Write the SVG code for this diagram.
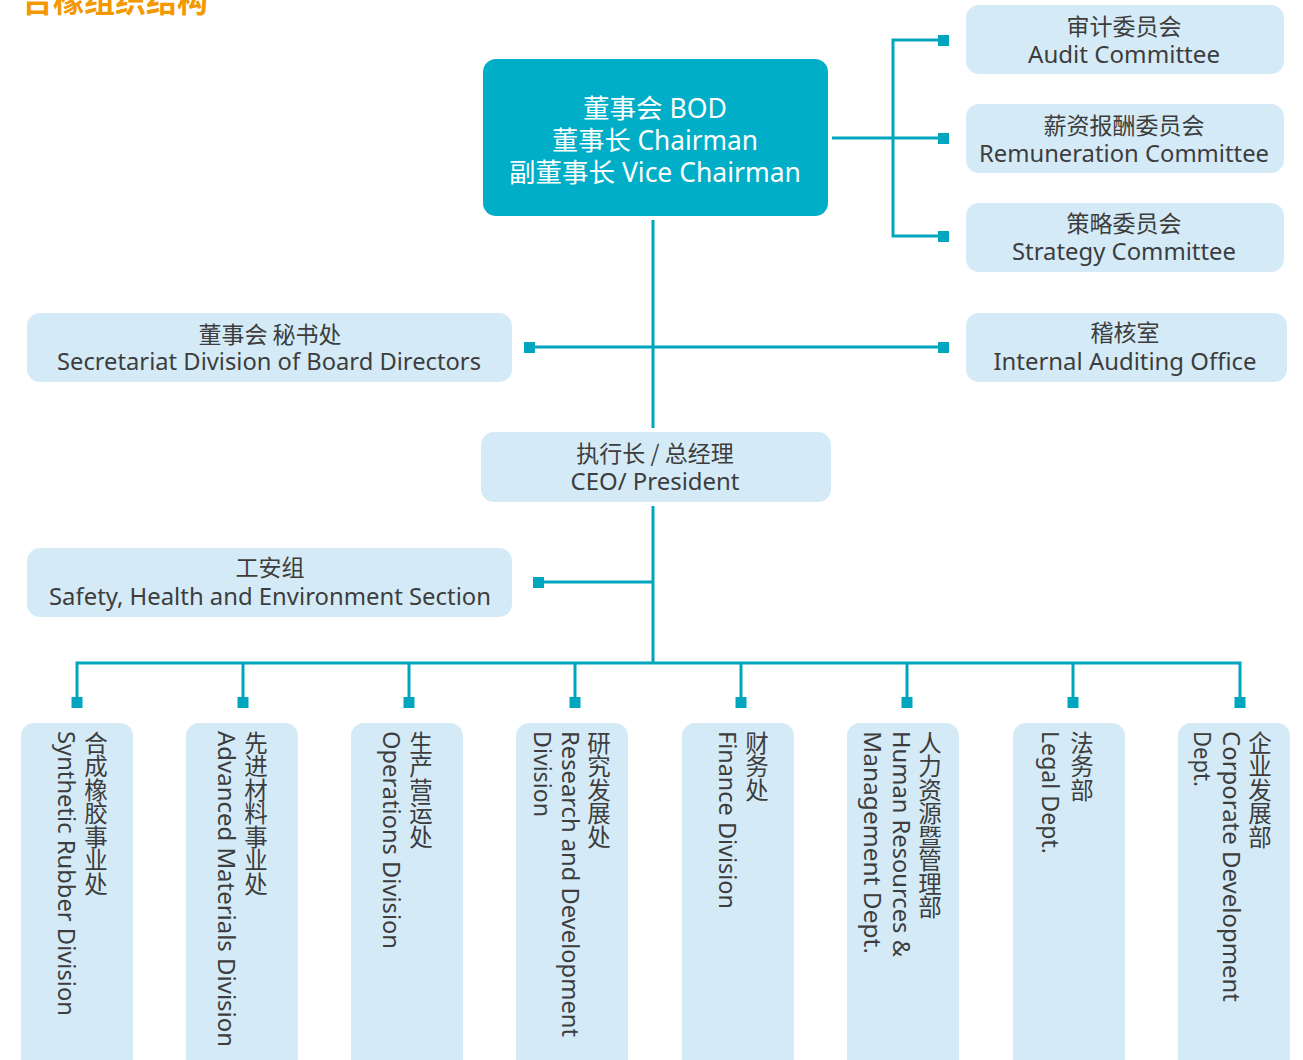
<svg xmlns="http://www.w3.org/2000/svg" width="1303" height="1060" viewBox="0 0 1303 1060">
<style>
.box{fill:#d4ebf7}
.bod{fill:#00aec7}
.ln{stroke:#00a5be;stroke-width:3;fill:none}
.sq{fill:#00a5be}
.zh{font-family:"Noto Sans CJK SC","Noto Sans",sans-serif;font-size:23px;fill:#3d3d3d;text-anchor:middle}
.en{font-family:"Noto Sans","Noto Sans CJK SC",sans-serif;font-size:24px;fill:#3d3d3d;text-anchor:middle}
.wt{font-family:"Noto Sans","Noto Sans CJK SC",sans-serif;font-size:26.5px;fill:#ffffff;text-anchor:middle}
.vzh{font-family:"Noto Sans CJK SC",sans-serif;font-size:23.5px;fill:#3d3d3d;writing-mode:vertical-rl;text-anchor:start}
.ven{font-family:"Noto Sans","Noto Sans CJK SC",sans-serif;font-size:24px;fill:#3d3d3d;text-anchor:start}
.title{font-family:"Noto Sans CJK SC",sans-serif;font-size:31px;font-weight:bold;fill:#f39800}
</style>
<rect width="1303" height="1060" fill="#ffffff"/>
<text class="title" x="22" y="12">台橡组织结构</text>

<g id="connectors">
  <line class="ln" x1="653" y1="220" x2="653" y2="428"/>
  <line class="ln" x1="653" y1="506" x2="653" y2="663"/>
  <path class="ln" d="M832 138 H943 M943 40 H893 V236 H943"/>
  <line class="ln" x1="529" y1="347" x2="943" y2="347"/>
  <line class="ln" x1="538" y1="582" x2="653" y2="582"/>
  <path class="ln" d="M77 698 V663 H1240 V698"/>
  <path class="ln" d="M243 663 V698 M409 663 V698 M575 663 V698 M741 663 V698 M907 663 V698 M1073 663 V698"/>
  <rect class="sq" x="938" y="35" width="11" height="11"/>
  <rect class="sq" x="938" y="133" width="11" height="11"/>
  <rect class="sq" x="938" y="231" width="11" height="11"/>
  <rect class="sq" x="938" y="342" width="11" height="11"/>
  <rect class="sq" x="524" y="342" width="11" height="11"/>
  <rect class="sq" x="533" y="577" width="11" height="11"/>
  <rect class="sq" x="71.5" y="697" width="11" height="11"/>
  <rect class="sq" x="237.5" y="697" width="11" height="11"/>
  <rect class="sq" x="403.5" y="697" width="11" height="11"/>
  <rect class="sq" x="569.5" y="697" width="11" height="11"/>
  <rect class="sq" x="735.5" y="697" width="11" height="11"/>
  <rect class="sq" x="901.5" y="697" width="11" height="11"/>
  <rect class="sq" x="1067.5" y="697" width="11" height="11"/>
  <rect class="sq" x="1234.5" y="697" width="11" height="11"/>
</g>

<g id="bod">
  <rect class="bod" x="483" y="59" width="345" height="157" rx="13"/>
  <text class="wt" x="655" y="118" textLength="144" lengthAdjust="spacingAndGlyphs">董事会 BOD</text>
  <text class="wt" x="655" y="150" textLength="206" lengthAdjust="spacingAndGlyphs">董事长 Chairman</text>
  <text class="wt" x="655" y="182" textLength="292" lengthAdjust="spacingAndGlyphs">副董事长 Vice Chairman</text>
</g>

<g id="audit">
  <rect class="box" x="966" y="5" width="318" height="69" rx="13"/>
  <text class="zh" x="1124" y="35">审计委员会</text>
  <text class="en" x="1124" y="63" textLength="192" lengthAdjust="spacingAndGlyphs">Audit Committee</text>
</g>
<g id="remuneration">
  <rect class="box" x="966" y="104" width="318" height="69" rx="13"/>
  <text class="zh" x="1124" y="134">薪资报酬委员会</text>
  <text class="en" x="1124" y="162" textLength="290" lengthAdjust="spacingAndGlyphs">Remuneration Committee</text>
</g>
<g id="strategy">
  <rect class="box" x="966" y="203" width="318" height="69" rx="13"/>
  <text class="zh" x="1124" y="232">策略委员会</text>
  <text class="en" x="1124" y="260" textLength="224" lengthAdjust="spacingAndGlyphs">Strategy Committee</text>
</g>
<g id="internal-auditing">
  <rect class="box" x="966" y="313" width="321" height="69" rx="13"/>
  <text class="zh" x="1125" y="341">稽核室</text>
  <text class="en" x="1125" y="370" textLength="263" lengthAdjust="spacingAndGlyphs">Internal Auditing Office</text>
</g>
<g id="secretariat">
  <rect class="box" x="27" y="313" width="485" height="69" rx="13"/>
  <text class="zh" x="270" y="343">董事会 秘书处</text>
  <text class="en" x="269" y="370" textLength="424" lengthAdjust="spacingAndGlyphs">Secretariat Division of Board Directors</text>
</g>
<g id="ceo">
  <rect class="box" x="481" y="432" width="350" height="70" rx="13"/>
  <text class="zh" x="655" y="462">执行长 / 总经理</text>
  <text class="en" x="655" y="490" textLength="169" lengthAdjust="spacingAndGlyphs">CEO/ President</text>
</g>
<g id="safety">
  <rect class="box" x="27" y="548" width="485" height="69" rx="13"/>
  <text class="zh" x="270" y="576">工安组</text>
  <text class="en" x="270" y="605" textLength="442" lengthAdjust="spacingAndGlyphs">Safety, Health and Environment Section</text>
</g>

<g id="synthetic-rubber">
  <rect class="box" x="21" y="723" width="112" height="360" rx="13"/>
  <text class="vzh" x="96" y="731">合成橡胶事业处</text>
  <text class="ven" transform="translate(58,731) rotate(90)" textLength="285" lengthAdjust="spacingAndGlyphs">Synthetic Rubber Division</text>
</g>
<g id="advanced-materials">
  <rect class="box" x="186" y="723" width="112" height="360" rx="13"/>
  <text class="vzh" x="256" y="731">先进材料事业处</text>
  <text class="ven" transform="translate(218,731) rotate(90)" textLength="316" lengthAdjust="spacingAndGlyphs">Advanced Materials Division</text>
</g>
<g id="operations">
  <rect class="box" x="351" y="723" width="112" height="360" rx="13"/>
  <text class="vzh" x="421" y="731">生产营运处</text>
  <text class="ven" transform="translate(383,731) rotate(90)" textLength="218" lengthAdjust="spacingAndGlyphs">Operations Division</text>
</g>
<g id="research-development">
  <rect class="box" x="516" y="723" width="112" height="360" rx="13"/>
  <text class="vzh" x="599" y="731">研究发展处</text>
  <text class="ven" transform="translate(562,731) rotate(90)" textLength="306" lengthAdjust="spacingAndGlyphs">Research and Development</text>
  <text class="ven" transform="translate(534,731) rotate(90)" textLength="86" lengthAdjust="spacingAndGlyphs">Division</text>
</g>
<g id="finance">
  <rect class="box" x="682" y="723" width="112" height="360" rx="13"/>
  <text class="vzh" x="757" y="731">财务处</text>
  <text class="ven" transform="translate(719,731) rotate(90)" textLength="178" lengthAdjust="spacingAndGlyphs">Finance Division</text>
</g>
<g id="human-resources">
  <rect class="box" x="847" y="723" width="112" height="360" rx="13"/>
  <text class="vzh" x="930" y="731">人力资源暨管理部</text>
  <text class="ven" transform="translate(893,731) rotate(90)" textLength="226" lengthAdjust="spacingAndGlyphs">Human Resources &amp;</text>
  <text class="ven" transform="translate(864,731) rotate(90)" textLength="223" lengthAdjust="spacingAndGlyphs">Management Dept.</text>
</g>
<g id="legal">
  <rect class="box" x="1013" y="723" width="112" height="360" rx="13"/>
  <text class="vzh" x="1082" y="731">法务部</text>
  <text class="ven" transform="translate(1042,731) rotate(90)" textLength="123" lengthAdjust="spacingAndGlyphs">Legal Dept.</text>
</g>
<g id="corporate-development">
  <rect class="box" x="1178" y="723" width="112" height="360" rx="13"/>
  <text class="vzh" x="1260" y="731">企业发展部</text>
  <text class="ven" transform="translate(1223,731) rotate(90)" textLength="271" lengthAdjust="spacingAndGlyphs">Corporate Development</text>
  <text class="ven" transform="translate(1194,731) rotate(90)" textLength="56" lengthAdjust="spacingAndGlyphs">Dept.</text>
</g>
</svg>
